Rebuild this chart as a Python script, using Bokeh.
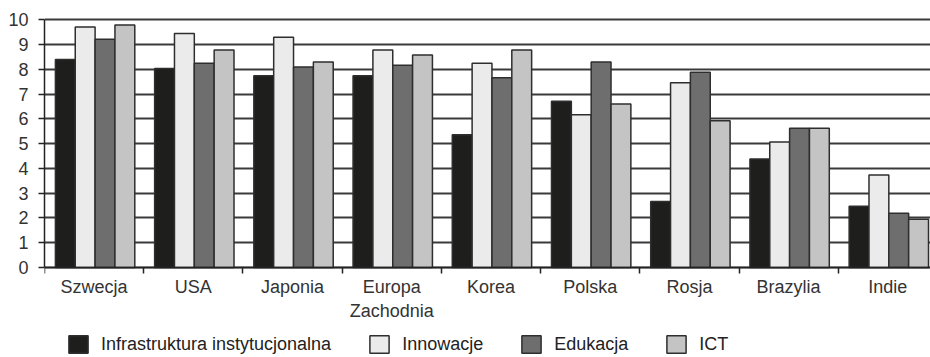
from bokeh.plotting import figure
from bokeh.models import (ColumnDataSource, Range1d, FixedTicker, Legend, LegendItem)
from bokeh.transform import dodge
from bokeh.embed import file_html
from bokeh.resources import INLINE

categories = ["Szwecja", "USA", "Japonia", "Europa\nZachodnia", "Korea",
              "Polska", "Rosja", "Brazylia", "Indie"]
infrastruktura = [8.4, 8.04, 7.75, 7.75, 5.36, 6.72, 2.67, 4.38, 2.47]
innowacje = [9.72, 9.45, 9.3, 8.79, 8.25, 6.17, 7.46, 5.07, 3.74]
edukacja = [9.22, 8.25, 8.1, 8.17, 7.67, 8.3, 7.89, 5.63, 2.19]
ict = [9.8, 8.79, 8.3, 8.59, 8.79, 6.61, 5.93, 5.63, 1.95]
series_names = ["Infrastruktura instytucjonalna", "Innowacje", "Edukacja", "ICT"]
series_colors = ["#1e1e1c", "#ebebeb", "#6e6e6e", "#c4c4c4"]
y_ticks = list(range(0, 11))

x = list(range(len(categories)))
source = ColumnDataSource(dict(x=x, s0=infrastruktura, s1=innowacje, s2=edukacja, s3=ict))

FONT = "Liberation Sans"

# frame extends below the value axis so that the legend can sit inside it
p = figure(frame_width=886, frame_height=340, output_backend="svg", toolbar_location=None,
           x_range=Range1d(-0.5, 8.43), y_range=Range1d(-3.636, 10.1),
           min_border_left=44, min_border_right=0, min_border_top=17, min_border_bottom=0)
p.outline_line_color = None
p.xgrid.visible = False
p.ygrid.grid_line_color = "#3a3a3a"
p.ygrid.grid_line_width = 2
p.ygrid.ticker = FixedTicker(ticks=y_ticks)

offsets = [-0.3, -0.1, 0.1, 0.3]
renderers = []
for i, off in enumerate(offsets):
    r = p.vbar(x=dodge("x", off + 0.01, range=p.x_range), top="s%d" % i, width=0.2,
               source=source, fill_color=series_colors[i], line_color="#2e2e2e",
               line_width=1.5)
    renderers.append(r)

# y axis
p.yaxis.ticker = FixedTicker(ticks=y_ticks)
p.yaxis.bounds = (0, 10)
p.yaxis.axis_line_color = "#222222"
p.yaxis.axis_line_width = 1.5
p.yaxis.major_tick_line_color = "#222222"
p.yaxis.major_tick_line_width = 1.5
p.yaxis.major_tick_out = 6
p.yaxis.major_tick_in = 0
p.yaxis.minor_tick_line_color = None
p.yaxis.major_label_text_font = FONT
p.yaxis.major_label_text_font_size = "18px"
p.yaxis.major_label_text_color = "#333333"
p.yaxis.major_label_standoff = 10

# x axis drawn at value 0
p.xaxis.fixed_location = 0
p.xaxis.ticker = FixedTicker(ticks=x, minor_ticks=[i - 0.5 for i in x] + [8.5])
p.xaxis.major_label_overrides = {i: c for i, c in enumerate(categories)}
p.xaxis.axis_line_color = "#222222"
p.xaxis.axis_line_width = 1.5
p.xaxis.major_tick_line_color = None
p.xaxis.major_tick_out = 0
p.xaxis.minor_tick_line_color = "#222222"
p.xaxis.minor_tick_line_width = 1.5
p.xaxis.minor_tick_out = 6
p.xaxis.minor_tick_in = 0
p.xaxis.major_label_text_font = FONT
p.xaxis.major_label_text_font_size = "18px"
p.xaxis.major_label_text_color = "#333333"
p.xaxis.major_label_standoff = 3

legend = Legend(items=[LegendItem(label=n, renderers=[r]) for n, r in zip(series_names, renderers)],
                orientation="horizontal", location=(22, 2))
legend.border_line_color = None
legend.background_fill_alpha = 0
legend.label_text_font = FONT
legend.label_text_font_size = "18px"
legend.label_text_color = "#222222"
legend.glyph_width = 24
legend.glyph_height = 22
legend.label_standoff = 11
legend.spacing = 36
legend.padding = 0
legend.margin = 0
legend.label_height = 22
p.add_layout(legend)

open("out.html", "w").write(file_html(p, INLINE))
